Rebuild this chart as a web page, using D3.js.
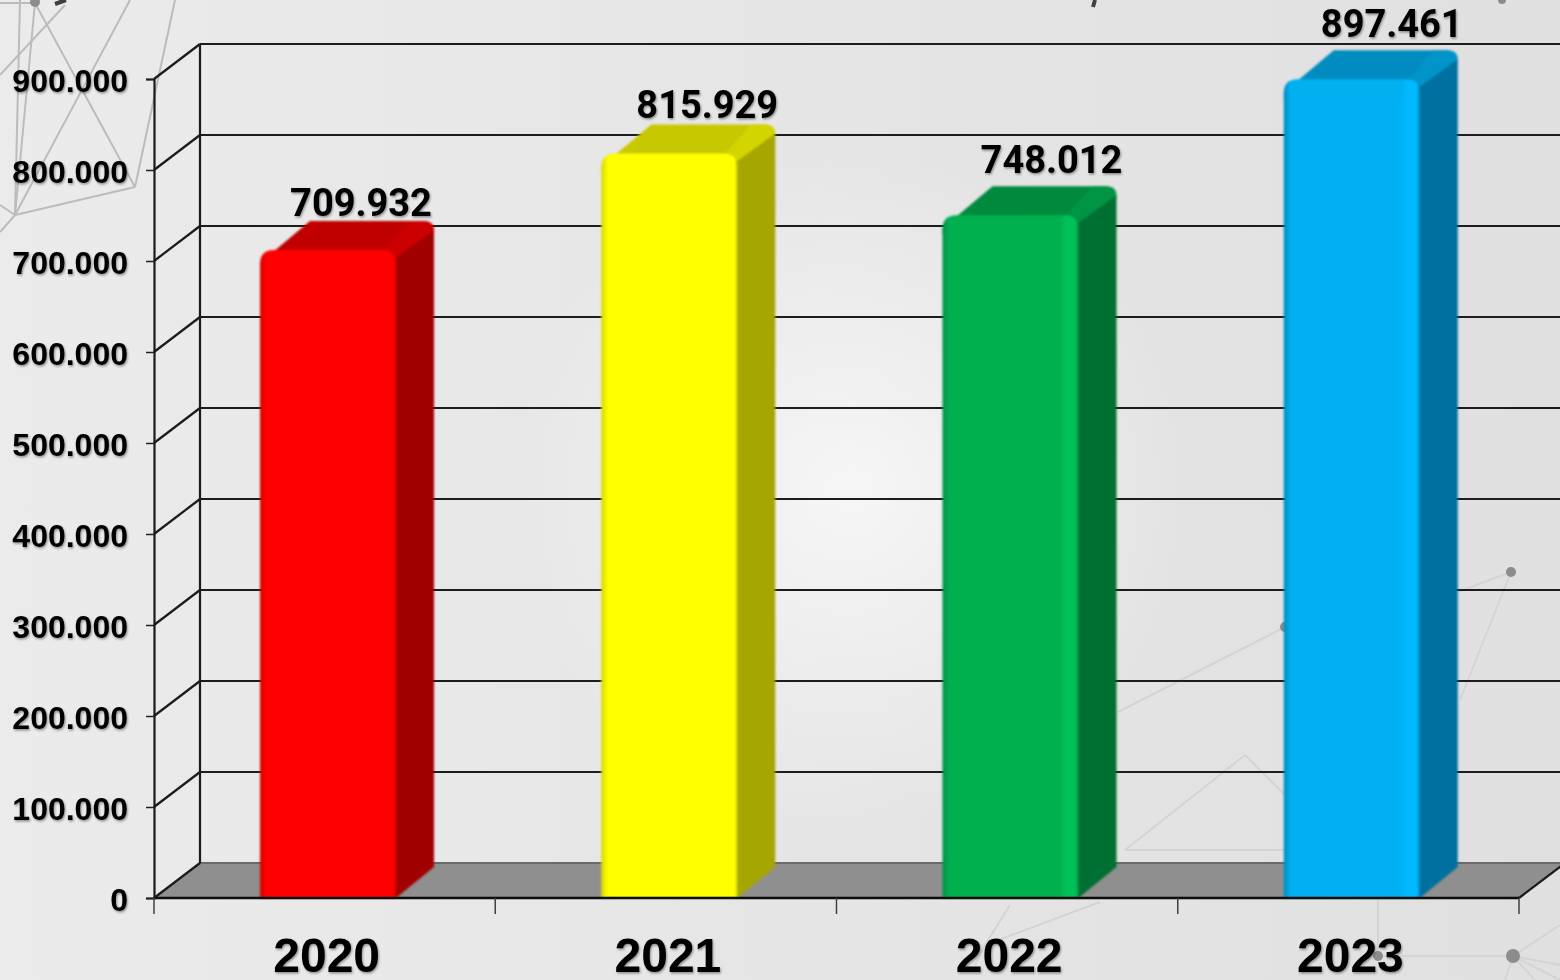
<!DOCTYPE html>
<html lang="en">

<head>
    <meta charset="UTF-8">
    <title>Chart 2020-2023</title>
    <script src="https://d3js.org/d3.v7.min.js"></script>
    <style>
        body { margin: 0; background: #e6e6e6; overflow: hidden; }
        svg { display: block; }
    </style>
</head>

<body>
    <script>
        // chart data
        const years = ["2020", "2021", "2022", "2023"];
        const totals = [709932, 815929, 748012, 897461];
        const yTicks = [0, 100000, 200000, 300000, 400000, 500000, 600000, 700000, 800000, 900000];

        // bar colours: front, top, top corner, side
        const frontColors = ["#ff0000", "#ffff00", "#00b050", "#00b0f0"];
        const edgeColors = ["#d80000", "#d8d800", "#009044", "#0088c4"];
        const lightColors = ["#ff0000", "#ffff00", "#00c058", "#00b9ff"];
        const topColors = ["#c00000", "#c8c800", "#008a3e", "#008cc0"];
        const cornerColors = ["#cc0000", "#d4d400", "#009444", "#0094c8"];
        const sideColors = ["#a00000", "#a6a600", "#007030", "#0070a0"];

        // value labels do not sit at the same place over each bar
        const labelShiftX = [0, 5, 8, 7];
        const labelShiftY = [-36, -38, -44, -44];

        // faint network picture behind the chart
        const netLines = [
            [35, 3, 135, 187], [130, 0, 15, 215], [175, 0, 135, 187], [135, 187, 15, 215],
            [20, 0, 15, 215], [35, 3, 15, 215], [65, 5, 0, 75], [0, 205, 15, 215], [15, 215, 0, 232],
            [0, 3, 35, 3], [1118, 712, 1285, 627], [1458, 592, 1511, 572], [1511, 572, 1460, 700],
            [1245, 755, 1125, 850], [1125, 850, 1290, 850], [1245, 755, 1290, 800],
            [1010, 905, 985, 945], [1100, 902, 985, 945], [985, 945, 975, 965],
            [1378, 900, 1378, 956], [1378, 956, 1513, 956], [1513, 956, 1560, 925],
            [1513, 956, 1560, 965], [1513, 956, 1560, 980], [1513, 956, 1535, 980], [1513, 956, 1505, 980]
        ];
        const netNodes = [
            [35, 2, 5], [1285, 627, 5], [1511, 572, 5], [1378, 956, 5], [1513, 956, 7], [1502, 0, 4]
        ];
        // bits of a cut off title at the top edge
        const titleStubs = [[66, 0, 55, 4], [1095, 0, 1093, 7]];

        const width = 1560;
        const height = 980;
        const depthX = 46;
        const depthY = -35;
        const barDepthX = 38;
        const barDepthY = -28;
        const barWidth = 136;
        const barOffset = 106;
        const lineColor = "#1a1a1a";

        const svg = d3.select("body")
            .append("svg")
            .attr("width", width)
            .attr("height", height);

        const defs = svg.append("defs");

        const bgLinear = defs.append("linearGradient").attr("id", "bgLinear");
        bgLinear.append("stop").attr("offset", "0").attr("stop-color", "#ebebeb");
        bgLinear.append("stop").attr("offset", "1").attr("stop-color", "#e0e0e0");

        const bgGlow = defs.append("radialGradient")
            .attr("id", "bgGlow")
            .attr("gradientUnits", "userSpaceOnUse")
            .attr("cx", 850).attr("cy", 490).attr("r", 340);
        bgGlow.append("stop").attr("offset", "0").attr("stop-color", "#fff").attr("stop-opacity", 0.65);
        bgGlow.append("stop").attr("offset", "1").attr("stop-color", "#fff").attr("stop-opacity", 0);

        const soft = defs.append("filter").attr("id", "soft");
        soft.append("feGaussianBlur").attr("stdDeviation", 0.8);

        const softer = defs.append("filter").attr("id", "softer")
            .attr("filterUnits", "userSpaceOnUse")
            .attr("x", 0).attr("y", 0).attr("width", width).attr("height", height);
        softer.append("feGaussianBlur").attr("stdDeviation", 0.7);

        const textShadow = defs.append("filter").attr("id", "textShadow")
            .attr("x", "-10%").attr("y", "-20%").attr("width", "120%").attr("height", "150%");
        textShadow.append("feDropShadow")
            .attr("dx", 1).attr("dy", 1.5).attr("stdDeviation", 1)
            .attr("flood-color", "#000").attr("flood-opacity", 0.4);

        years.forEach((year, i) => {
            const grad = defs.append("linearGradient").attr("id", "front" + i);
            grad.append("stop").attr("offset", "0").attr("stop-color", edgeColors[i]);
            grad.append("stop").attr("offset", "0.05").attr("stop-color", frontColors[i]);
            grad.append("stop").attr("offset", "0.87").attr("stop-color", frontColors[i]);
            grad.append("stop").attr("offset", "0.9").attr("stop-color", lightColors[i]);
            grad.append("stop").attr("offset", "0.98").attr("stop-color", lightColors[i]);
            grad.append("stop").attr("offset", "1").attr("stop-color", edgeColors[i]);
        });

        svg.append("rect").attr("width", width).attr("height", height).attr("fill", "url(#bgLinear)");
        svg.append("rect").attr("width", width).attr("height", height).attr("fill", "url(#bgGlow)");

        const net = svg.append("g").attr("filter", "url(#softer)");
        net.selectAll(".net")
            .data(netLines)
            .join("line")
            .attr("class", "net")
            .attr("x1", d => d[0]).attr("y1", d => d[1])
            .attr("x2", d => d[2]).attr("y2", d => d[3])
            .attr("stroke", d => d[0] < 200 ? "#bcbcbc" : "#d4d4d4")
            .attr("stroke-width", 2);
        net.selectAll("circle")
            .data(netNodes)
            .join("circle")
            .attr("cx", d => d[0]).attr("cy", d => d[1]).attr("r", d => d[2])
            .attr("fill", "#8c8c8c");
        net.selectAll(".stub")
            .data(titleStubs)
            .join("line")
            .attr("class", "stub")
            .attr("x1", d => d[0]).attr("y1", d => d[1])
            .attr("x2", d => d[2]).attr("y2", d => d[3])
            .attr("stroke", "#404040")
            .attr("stroke-width", 4);

        // scales
        const x = d3.scaleBand().domain(years).range([154, 1519]);
        const y = d3.scaleLinear().domain([0, 900000]).range([898, 79]);
        const dotted = d3.formatLocale({ decimal: ",", thousands: ".", grouping: [3], currency: ["", ""] }).format(",d");

        // walls and floor
        const frame = svg.append("g").attr("filter", "url(#softer)");

        frame.append("polygon")
            .attr("points", [
                [x.range()[0], y(0)],
                [x.range()[0] + depthX, y(0) + depthY],
                [x.range()[1] + depthX, y(0) + depthY],
                [x.range()[1], y(0)]
            ].join(" "))
            .attr("fill", "#8f8f8f");

        frame.selectAll(".grid")
            .data(yTicks)
            .join("line")
            .attr("class", "grid")
            .attr("x1", x.range()[0] + depthX)
            .attr("x2", width)
            .attr("y1", d => y(d) + depthY)
            .attr("y2", d => y(d) + depthY)
            .attr("stroke", d => d === 0 ? "#6a6a6a" : lineColor)
            .attr("stroke-width", 2.2);

        frame.selectAll(".wall")
            .data(yTicks)
            .join("line")
            .attr("class", "wall")
            .attr("x1", x.range()[0])
            .attr("x2", x.range()[0] + depthX)
            .attr("y1", d => y(d))
            .attr("y2", d => y(d) + depthY)
            .attr("stroke", lineColor)
            .attr("stroke-width", 2.2);

        frame.append("line")
            .attr("x1", x.range()[0] + depthX).attr("x2", x.range()[0] + depthX)
            .attr("y1", y(900000) + depthY).attr("y2", y(0) + depthY)
            .attr("stroke", lineColor).attr("stroke-width", 2.2);

        frame.append("line")
            .attr("x1", x.range()[1]).attr("x2", x.range()[1] + depthX)
            .attr("y1", y(0)).attr("y2", y(0) + depthY)
            .attr("stroke", lineColor).attr("stroke-width", 2.2);

        // bars
        const bars = svg.selectAll(".bar")
            .data(years)
            .join("g")
            .attr("class", "bar")
            .attr("filter", "url(#soft)");

        bars.append("path")
            .attr("fill", (d, i) => topColors[i])
            .attr("d", (d, i) => {
                const left = x(d) + barOffset;
                const top = y(totals[i]) - 3;
                return `M${left},${top + 14} L${left + barDepthX + 12},${top + barDepthY}
                    L${left + barWidth + barDepthX - 10},${top + barDepthY}
                    Q${left + barWidth + barDepthX},${top + barDepthY} ${left + barWidth + barDepthX},${top + barDepthY + 10}
                    L${left + barWidth},${top + 20} L${left},${top + 20} Z`;
            });

        bars.append("path")
            .attr("fill", (d, i) => cornerColors[i])
            .attr("d", (d, i) => {
                const left = x(d) + barOffset;
                const top = y(totals[i]) - 3;
                return `M${left + barWidth - 14},${top + 3} L${left + barWidth + barDepthX - 24},${top + barDepthY}
                    L${left + barWidth + barDepthX - 10},${top + barDepthY}
                    Q${left + barWidth + barDepthX},${top + barDepthY} ${left + barWidth + barDepthX},${top + barDepthY + 10}
                    L${left + barWidth},${top + 12} Z`;
            });

        bars.append("path")
            .attr("fill", (d, i) => sideColors[i])
            .attr("d", (d, i) => {
                const right = x(d) + barOffset + barWidth;
                const top = y(totals[i]) - 3;
                return `M${right - 2},${top + 10} L${right + barDepthX},${top + barDepthY + 9}
                    L${right + barDepthX},${y(0) + barDepthY - 3} L${right},${y(0)} L${right - 2},${y(0)} Z`;
            });

        bars.append("path")
            .attr("fill", (d, i) => `url(#front${i})`)
            .attr("d", (d, i) => {
                const left = x(d) + barOffset;
                const top = y(totals[i]) - 2;
                return `M${left},${y(0)} L${left},${top + 14} Q${left},${top} ${left + 14},${top}
                    L${left + barWidth - 14},${top} Q${left + barWidth},${top} ${left + barWidth},${top + 14}
                    L${left + barWidth},${y(0)} Z`;
            });

        // front baseline goes over the bars
        svg.append("line")
            .attr("x1", x.range()[0]).attr("x2", x.range()[1])
            .attr("y1", y(0)).attr("y2", y(0))
            .attr("stroke", "#101010").attr("stroke-width", 2.4)
            .attr("filter", "url(#softer)");

        // axes
        const yAxis = svg.append("g")
            .attr("transform", `translate(${x.range()[0]},0)`)
            .call(d3.axisLeft(y).tickValues(yTicks).tickFormat(dotted).tickSize(8).tickPadding(18));
        yAxis.select(".domain").attr("stroke", lineColor).attr("stroke-width", 2.2);
        yAxis.selectAll("line").attr("stroke", "#202020").attr("stroke-width", 1.5);
        yAxis.selectAll("text")
            .attr("fill", "#000")
            .attr("dy", "0.4em")
            .attr("filter", "url(#textShadow)")
            .style("font", "bold 32px 'Liberation Sans', Arial, sans-serif");

        const xAxis = svg.append("g")
            .attr("transform", `translate(0,${y(0)})`)
            .call(d3.axisBottom(x).tickSize(0).tickPadding(40));
        xAxis.select(".domain").remove();
        xAxis.selectAll("text")
            .attr("fill", "#000")
            .attr("dx", 2)
            .attr("filter", "url(#textShadow)")
            .style("font", "bold 48px 'Liberation Sans', Arial, sans-serif");

        svg.selectAll(".xtick")
            .data(years.concat("end"))
            .join("line")
            .attr("class", "xtick")
            .attr("x1", d => d === "end" ? x.range()[1] : x(d))
            .attr("x2", d => d === "end" ? x.range()[1] : x(d))
            .attr("y1", y(0))
            .attr("y2", y(0) + 16)
            .attr("stroke", "#404040")
            .attr("stroke-width", 1.5);

        // value labels
        svg.selectAll(".value")
            .data(years)
            .join("text")
            .attr("class", "value")
            .attr("x", (d, i) => x(d) + barOffset + barWidth / 2 + 33 + labelShiftX[i])
            .attr("y", (d, i) => y(totals[i]) + labelShiftY[i])
            .attr("text-anchor", "middle")
            .attr("fill", "#000")
            .attr("filter", "url(#textShadow)")
            .style("font", "bold 38px Roboto, sans-serif")
            .text((d, i) => dotted(totals[i]));
    </script>
</body>

</html>
